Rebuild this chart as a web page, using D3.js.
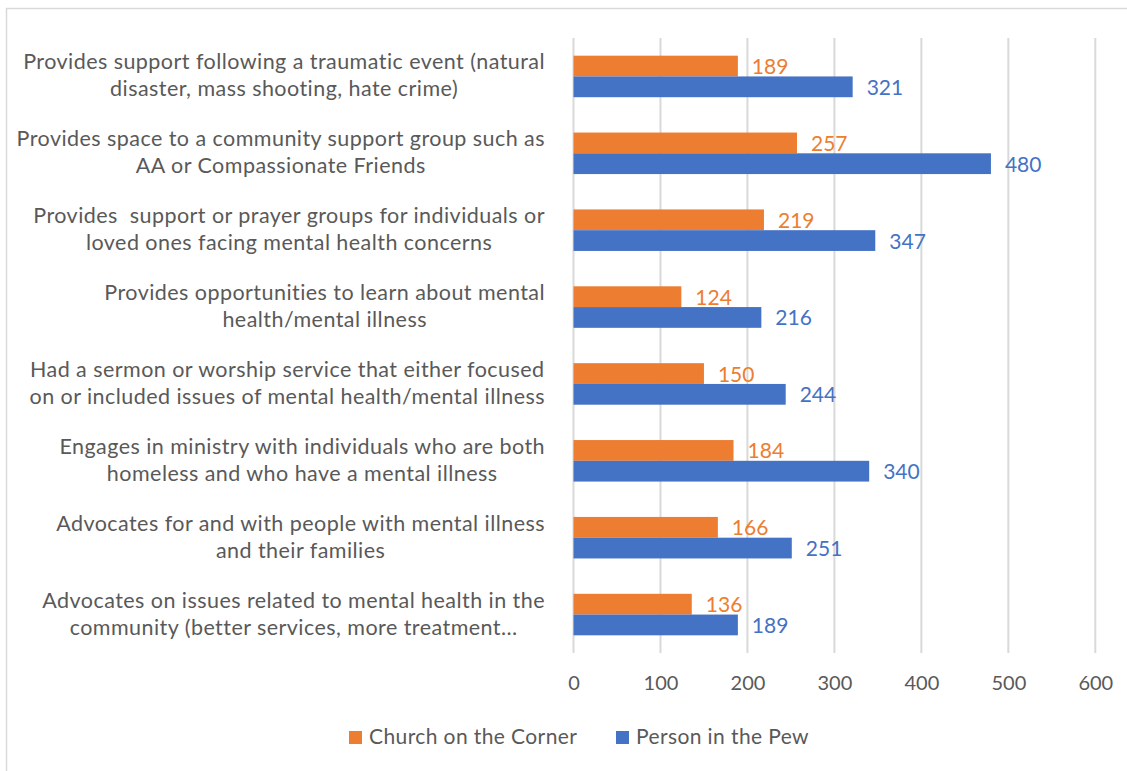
<!doctype html>
<html>
<head>
    <meta charset="utf-8">
    <title>Mental health ministry</title>
    <script src="https://cdn.jsdelivr.net/npm/d3@7/dist/d3.min.js"></script>
    <style>
        body { margin: 0; background: #fff; }
        text { font-family: Lato, "Liberation Sans", sans-serif; white-space: pre; }
    </style>
</head>
<body>
    <script>
        // categories, top to bottom (each one wrapped into two lines)
        var categories = [
            ["Provides support following a traumatic event (natural", "disaster, mass shooting, hate crime)"],
            ["Provides space to a community support group such as", "AA or Compassionate Friends"],
            ["Provides  support or prayer groups for individuals or", "loved ones facing mental health concerns"],
            ["Provides opportunities to learn about mental", "health/mental illness"],
            ["Had a sermon or worship service that either focused", "on or included issues of mental health/mental illness"],
            ["Engages in ministry with individuals who are both", "homeless and who have a mental illness"],
            ["Advocates for and with people with mental illness", "and their families"],
            ["Advocates on issues related to mental health in the", "community (better services, more treatment\u2026"]
        ];
        var seriesNames = ["Church on the Corner", "Person in the Pew"];
        var church = [189, 257, 219, 124, 150, 184, 166, 136];
        var pew = [321, 480, 347, 216, 244, 340, 251, 189];
        var xTicks = [0, 100, 200, 300, 400, 500, 600];

        var colors = ["#ED7D31", "#4472C4"];
        var textGray = "#595959";

        var width = 1127, height = 771;
        var svg = d3.select("body").append("svg")
            .attr("width", width).attr("height", height);

        // chart border
        svg.append("rect")
            .attr("x", 6.5).attr("y", 8.5)
            .attr("width", 1140).attr("height", 800)
            .attr("fill", "none").attr("stroke", "#d9d9d9").attr("stroke-width", 1.5);

        var x = d3.scaleLinear().domain([0, 600]).range([573.5, 1095.3]);
        var idx = d3.range(categories.length);
        var y = d3.scaleBand().domain(idx).range([38, 653]).paddingInner(0.46).paddingOuter(0.23);
        var barH = y.bandwidth() / 2;

        // gridlines
        svg.append("g").selectAll("line").data(xTicks).join("line")
            .attr("x1", d => x(d)).attr("x2", d => x(d))
            .attr("y1", 38).attr("y2", 653)
            .attr("stroke", "#d9d9d9").attr("stroke-width", 2);

        // tick labels via axis
        var axis = svg.append("g")
            .attr("transform", "translate(0,653)")
            .call(d3.axisBottom(x).tickValues(xTicks).tickSize(0).tickPadding(23));
        axis.select(".domain").remove();
        axis.selectAll("text").attr("font-size", 20).attr("fill", textGray)
            .style("font-family", "Lato, 'Liberation Sans', sans-serif");

        var series = [church, pew];
        series.forEach(function (vals, s) {
            svg.append("g").selectAll("rect").data(idx).join("rect")
                .attr("x", x(0))
                .attr("y", i => y(i) + s * barH)
                .attr("width", i => x(vals[i]) - x(0))
                .attr("height", barH)
                .attr("fill", colors[s]);
            svg.append("g").selectAll("text").data(idx).join("text")
                .attr("x", i => x(vals[i]) + 14)
                .attr("y", i => y(i) + s * barH + barH / 2 + 8)
                .attr("font-size", 21)
                .attr("fill", colors[s])
                .text(i => vals[i]);
        });

        // category labels: lines centred within a block right-aligned at 545
        var labelG = svg.append("g");
        idx.forEach(function (i) {
            var cy = y(i) + y.bandwidth() / 2;
            var t = labelG.append("text")
                .attr("font-size", 21.5)
                .attr("letter-spacing", 0.45)
                .attr("fill", textGray)
                .attr("text-anchor", "middle");
            categories[i].forEach(function (line, k) {
                t.append("tspan").attr("y", cy - 7 + k * 27).text(line);
            });
            var w = d3.max(t.selectAll("tspan").nodes(), n => n.getComputedTextLength());
            t.selectAll("tspan").attr("x", 545 - w / 2);
        });

        // legend
        var legendX = [349, 616];
        seriesNames.forEach(function (name, s) {
            svg.append("rect")
                .attr("x", legendX[s]).attr("y", 731)
                .attr("width", 13).attr("height", 13)
                .attr("fill", colors[s]);
            svg.append("text")
                .attr("x", legendX[s] + 20).attr("y", 744)
                .attr("font-size", 21).attr("letter-spacing", 0.4)
                .attr("fill", textGray)
                .text(name);
        });
    </script>
</body>
</html>
